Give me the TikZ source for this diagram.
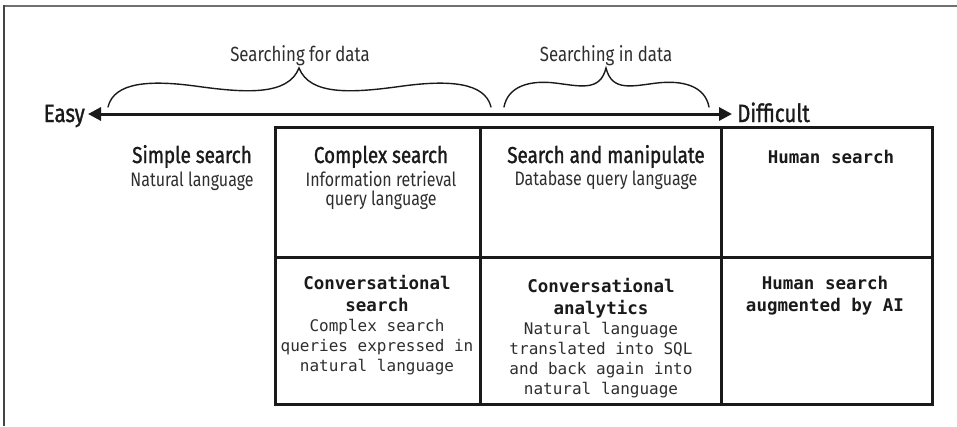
\documentclass[tikz,border=0pt]{standalone}
\usepackage{fontspec}
\setmainfont{Fira Sans}[FakeStretch=0.82]
\newfontfamily\headfont{Fira Sans}[FakeStretch=0.82, FakeBold=1.3]
\newfontfamily\codefont{DejaVu Sans Mono}
\usetikzlibrary{arrows.meta}
\definecolor{ink}{HTML}{1A1A1A}
\definecolor{soft}{HTML}{2E2E2E}
\definecolor{framegray}{HTML}{707070}
\definecolor{frameleft}{HTML}{454545}
\tikzset{
  cellbox/.style={draw=ink, line width=3pt, anchor=north west, inner sep=0pt, outer sep=0pt},
  head/.style={text=ink, anchor=base, inner sep=0pt, align=center, font=\headfont\fontsize{23}{24}\selectfont},
  sub/.style={text=soft, anchor=base, inner sep=0pt, align=center, font=\fontsize{19.5}{19.5}\selectfont},
  codehead/.style={text=ink, anchor=base, inner sep=0pt, align=center, font=\codefont\bfseries\fontsize{17.5}{22}\selectfont},
  codebody/.style={text=soft, anchor=base, inner sep=0pt, align=center, font=\codefont\fontsize{16}{20}\selectfont},
  ends/.style={text=ink, inner sep=0pt, font=\headfont\fontsize{25}{25}\selectfont},
  span/.style={text=soft, anchor=base, inner sep=0pt, font=\fontsize{20.5}{20}\selectfont},
  curly/.style={draw=ink, line width=1.4pt, line cap=round},
  axis/.style={draw=ink, line width=3pt, {Triangle[length=13pt,width=13pt]}-{Triangle[length=13pt,width=13pt]}}
}
\begin{document}
\begin{tikzpicture}[x=1pt,y=-1pt]
\useasboundingbox (0,0) rectangle (957,426);

% page frame
\draw[framegray, line width=2pt] (3,6) -- (957,6);
\draw[frameleft, line width=2pt] (4,5) -- (4,426);

% difficulty axis
\node[ends, anchor=base east] (easy) at (85,122) {Easy};
\node[ends, anchor=base west] (difficult) at (737,122) {Difficult};
\coordinate (ea) at (88,114);
\coordinate (di) at (732,114);
\draw[axis] (ea) -- (di);

% braces over the axis
\coordinate (b1l) at (108,107);
\coordinate (b1m) at (299,68);
\coordinate (b1r) at (491,107);
\draw[curly] (b1l) .. controls (114,82) and (150,80) .. (195,86)
             .. controls (245,93) and (288,96) .. (b1m)
             .. controls (310,96) and (353,93) .. (403,86)
             .. controls (448,80) and (485,82) .. (b1r);
\coordinate (b2l) at (504,107);
\coordinate (b2m) at (606,68);
\coordinate (b2r) at (709,107);
\draw[curly] (b2l) .. controls (508,86) and (530,80) .. (555,83)
             .. controls (580,86) and (600,92) .. (b2m)
             .. controls (612,92) and (632,86) .. (657,83)
             .. controls (683,80) and (705,86) .. (b2r);
\node[span] (sfor) at (300,61) {Searching for data};
\node[span] (sin) at (606,61) {Searching in data};

% table cells
\node[cellbox, minimum width=205pt, minimum height=130pt] (c11) at (275,127) {};
\node[cellbox, minimum width=241pt, minimum height=130pt] (c12) at (480,127) {};
\node[cellbox, minimum width=211pt, minimum height=130pt] (c13) at (721,127) {};
\node[cellbox, minimum width=205pt, minimum height=147pt] (c21) at (275,257) {};
\node[cellbox, minimum width=241pt, minimum height=147pt] (c22) at (480,257) {};
\node[cellbox, minimum width=211pt, minimum height=147pt] (c23) at (721,257) {};

% first row (multi-line nodes sit on the baseline of their last line)
\node[head] (h0) at (192,163) {Simple search};
\node[sub] (s0) at (192,186) {Natural language};
\node[head] (h1) at (381,163) {Complex search};
\node[sub] (s1) at (381,205.5) {Information retrieval\\query language};
\node[head] (h2) at (606,163) {Search and manipulate};
\node[sub] (s2) at (606,185) {Database query language};
\node[codehead] (h3) at (831,163) {Human search};

% second row
\node[codehead] (h4) at (377,311) {Conversational\\search};
\node[codebody] (s4) at (377,371) {Complex search\\queries expressed in\\natural language};
\node[codehead] (h5) at (601,314) {Conversational\\analytics};
\node[codebody] (s5) at (601,394) {Natural language\\translated into SQL\\and back again into\\natural language};
\node[codehead] (h6) at (825,311) {Human search\\augmented by AI};
\end{tikzpicture}
\end{document}
